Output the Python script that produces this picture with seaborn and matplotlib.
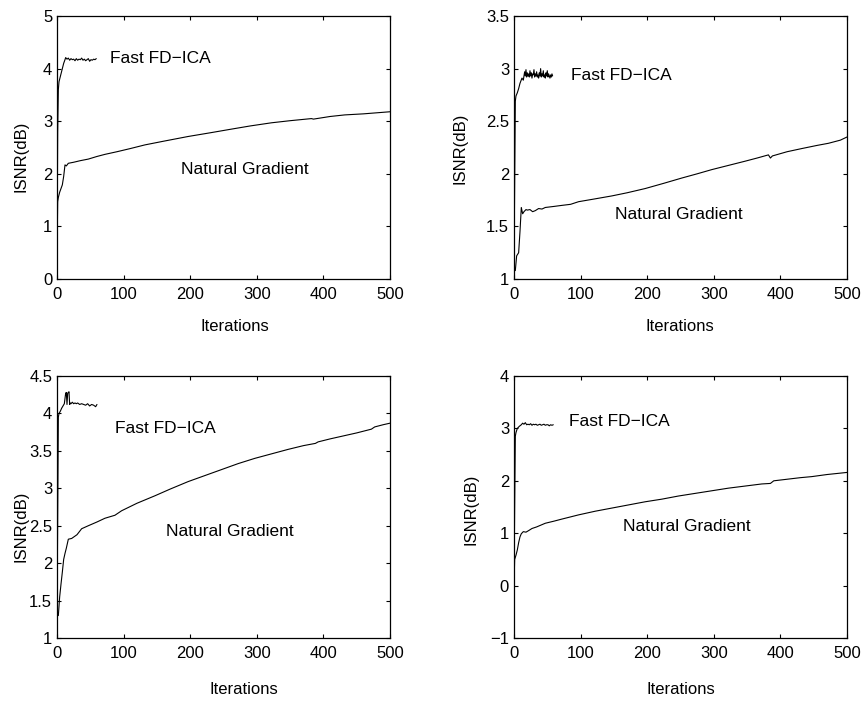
import numpy as np
import pandas as pd
import seaborn as sns
import matplotlib
matplotlib.use("Agg")
import matplotlib.pyplot as plt

# ---- data (ISNR in dB vs. iteration) ----
# panel a (top left)
ng_a_iter = [0, 1, 2, 4, 6, 8, 10, 12, 14, 17, 25, 35, 47, 60, 72, 90, 110, 132, 160, 197,
             230, 262, 290, 322, 350, 382, 385, 410, 432, 460, 480, 500]
ng_a = [0.45, 1.47, 1.55, 1.65, 1.72, 1.79, 1.95, 2.17, 2.15, 2.2, 2.22, 2.25, 2.28, 2.33, 2.37,
        2.42, 2.48, 2.55, 2.62, 2.71, 2.78, 2.85, 2.91, 2.97, 3.01, 3.05, 3.04, 3.09, 3.12, 3.14,
        3.16, 3.18]
fd_a_iter = [0, 1, 2, 3, 4, 6, 8, 10, 12, 13, 15, 17, 19, 21, 23, 25, 27, 29, 31, 33, 35, 37,
             39, 41, 43, 45, 47, 49, 51, 53, 55, 57, 59]
fd_a = [0.45, 2.8, 3.6, 3.75, 3.8, 3.9, 4.0, 4.1, 4.17, 4.21, 4.18, 4.2, 4.16, 4.19, 4.17, 4.18,
        4.15, 4.19, 4.16, 4.18, 4.17, 4.2, 4.16, 4.18, 4.15, 4.17, 4.19, 4.14, 4.17, 4.16, 4.18,
        4.17, 4.19]

# panel b (top right)
ng_b_iter = [0, 2, 4, 7, 9, 11, 13, 15, 18, 20, 24, 28, 32, 37, 42, 47, 60, 72, 85, 97, 120,
             147, 170, 197, 225, 252, 275, 297, 322, 347, 365, 382, 385, 388, 410, 432, 455, 472,
             490, 500]
ng_b = [1.1, 1.08, 1.22, 1.25, 1.45, 1.68, 1.62, 1.64, 1.66, 1.655, 1.66, 1.64, 1.65, 1.67,
        1.665, 1.68, 1.69, 1.70, 1.71, 1.735, 1.76, 1.79, 1.82, 1.86, 1.91, 1.96, 2.0, 2.04,
        2.08, 2.12, 2.15, 2.18, 2.15, 2.17, 2.21, 2.24, 2.27, 2.29, 2.32, 2.35]
fd_b_iter = [0, 1, 2, 3, 5, 7, 9, 12, 14] + list(range(16, 59))
fd_b = [1.1, 1.9, 2.69, 2.74, 2.77, 2.81, 2.86, 2.91, 2.89,
        2.97, 2.93, 2.99, 2.92, 2.96, 2.93, 2.95, 2.92, 2.98, 2.93,
        2.96, 2.91, 2.95, 2.94, 2.99, 2.92, 2.95, 2.93, 2.97, 2.92,
        2.94, 2.91, 2.96, 2.93, 3.0, 2.92, 2.95, 2.93, 2.98, 2.92,
        2.94, 2.91, 2.96, 2.93, 2.98, 2.92, 2.95, 2.93, 2.91, 2.94,
        2.92, 2.95, 2.93]

# panel c (bottom left)
ng_c_iter = [0, 2, 4, 6, 8, 10, 12, 14, 17, 22, 30, 37, 47, 60, 72, 87, 97, 120, 147, 170, 197,
             222, 247, 272, 297, 322, 347, 370, 388, 392, 410, 430, 450, 472, 477, 490, 500]
ng_c = [1.3, 1.3, 1.55, 1.72, 1.88, 2.05, 2.13, 2.2, 2.32, 2.33, 2.38, 2.46, 2.5, 2.55, 2.6,
        2.64, 2.7, 2.8, 2.9, 2.99, 3.09, 3.17, 3.25, 3.33, 3.4, 3.46, 3.52, 3.57, 3.6, 3.62,
        3.66, 3.7, 3.74, 3.79, 3.82, 3.85, 3.87]
fd_c_iter = [0, 1, 2, 3, 5, 7, 9, 11, 13, 14, 15, 16, 17, 18, 19, 20, 21, 23, 25, 27, 29, 31,
             34, 37, 40, 43, 46, 49, 52, 55, 58, 60]
fd_c = [1.3, 2.6, 3.95, 4.0, 4.03, 4.07, 4.1, 4.13, 4.27, 4.28, 4.12, 4.27, 4.28, 4.29, 4.12,
        4.14, 4.13, 4.15, 4.13, 4.14, 4.13, 4.14, 4.12, 4.13, 4.12, 4.11, 4.13, 4.1, 4.12, 4.11,
        4.09, 4.12]

# panel d (bottom right)
ng_d_iter = [0, 1, 3, 5, 7, 9, 11, 14, 18, 22, 27, 34, 47, 60, 72, 97, 122, 147, 172, 197, 222,
             247, 272, 297, 322, 347, 372, 385, 390, 410, 430, 447, 470, 500]
ng_d = [0.0, 0.5, 0.58, 0.68, 0.82, 0.93, 0.99, 1.03, 1.02, 1.05, 1.09, 1.12, 1.19, 1.23, 1.27,
        1.35, 1.42, 1.48, 1.54, 1.6, 1.65, 1.71, 1.76, 1.81, 1.86, 1.9, 1.94, 1.95, 2.0, 2.03,
        2.06, 2.08, 2.12, 2.16]
fd_d_iter = [0, 1, 2, 3, 5, 8, 11, 13, 15, 17] + list(range(19, 60, 2))
fd_d = [0.0, 1.5, 2.85, 2.92, 3.0, 3.04, 3.07, 3.1, 3.08, 3.11,
        3.07, 3.08, 3.07, 3.09, 3.06, 3.08, 3.07, 3.08, 3.06, 3.07,
        3.08, 3.06, 3.07, 3.08, 3.06, 3.07, 3.07, 3.05, 3.07, 3.06, 3.07]

# axis ticks per panel
x_ticks = [0, 100, 200, 300, 400, 500]
y_ticks_a = [0, 1, 2, 3, 4, 5]
y_labels_a = ["0", "1", "2", "3", "4", "5"]
y_ticks_b = [1, 1.5, 2, 2.5, 3, 3.5]
y_labels_b = ["1", "1.5", "2", "2.5", "3", "3.5"]
y_ticks_c = [1, 1.5, 2, 2.5, 3, 3.5, 4, 4.5]
y_labels_c = ["1", "1.5", "2", "2.5", "3", "3.5", "4", "4.5"]
y_ticks_d = [-1, 0, 1, 2, 3, 4]
y_labels_d = ["\u22121", "0", "1", "2", "3", "4"]

sns.set_theme(style="ticks", rc={
    "xtick.direction": "in", "ytick.direction": "in",
    "xtick.top": True, "ytick.right": True,
    "xtick.major.size": 3, "ytick.major.size": 3,
    "xtick.major.width": 0.8, "ytick.major.width": 0.8,
    "axes.linewidth": 0.9, "axes.edgecolor": "black",
    "xtick.color": "black", "ytick.color": "black",
    "text.color": "black", "axes.labelcolor": "black",
})
plt.rcParams["font.family"] = ["Liberation Sans", "DejaVu Sans"]

fig, axs = plt.subplots(2, 2, figsize=(8.65, 7.06), dpi=100)

panels = [
    # ax, ng data, fd data, yticks, ylabels, ylim, positions, label coords, text spots
    dict(ax=axs[0, 0], ng=(ng_a_iter, ng_a), fd=(fd_a_iter, fd_a), yt=y_ticks_a, yl=y_labels_a,
         pos=[0.0659, 0.6048, 0.385, 0.3725], ylab=(-0.087, 0.468), xlab=(0.535, -0.152),
         fd_txt=(80, 4.2), ng_txt=(186, 2.09)),
    dict(ax=axs[0, 1], ng=(ng_b_iter, ng_b), fd=(fd_b_iter, fd_b), yt=y_ticks_b, yl=y_labels_b,
         pos=[0.5942, 0.6048, 0.385, 0.3725], ylab=(-0.141, 0.498), xlab=(0.498, -0.152),
         fd_txt=(86, 2.93), ng_txt=(152, 1.61)),
    dict(ax=axs[1, 0], ng=(ng_c_iter, ng_c), fd=(fd_c_iter, fd_c), yt=y_ticks_c, yl=y_labels_c,
         pos=[0.0659, 0.0963, 0.385, 0.3711], ylab=(-0.087, 0.427), xlab=(0.56, -0.168),
         fd_txt=(87, 3.80), ng_txt=(164, 2.42)),
    dict(ax=axs[1, 1], ng=(ng_d_iter, ng_d), fd=(fd_d_iter, fd_d), yt=y_ticks_d, yl=y_labels_d,
         pos=[0.5942, 0.0963, 0.385, 0.3711], ylab=(-0.108, 0.492), xlab=(0.50, -0.168),
         fd_txt=(83, 3.14), ng_txt=(164, 1.12)),
]

for p in panels:
    ax = p["ax"]
    ax.set_position(p["pos"])
    sns.lineplot(x=p["ng"][0], y=p["ng"][1], ax=ax, color="black", linewidth=0.8,
                 estimator=None, sort=False)
    sns.lineplot(x=p["fd"][0], y=p["fd"][1], ax=ax, color="black", linewidth=0.8,
                 estimator=None, sort=False)
    ax.set_xlim(0, 500)
    ax.set_ylim(p["yt"][0], p["yt"][-1])
    ax.set_xticks(x_ticks)
    ax.set_xticklabels([str(t) for t in x_ticks])
    ax.set_yticks(p["yt"])
    ax.set_yticklabels(p["yl"])
    ax.tick_params(axis="both", labelsize=12)
    ax.tick_params(axis="x", pad=6)
    ax.tick_params(axis="y", pad=3.5)
    for s in ax.spines.values():
        s.set_visible(True)
        s.set_color("black")
    ax.set_xlabel("Iterations", fontsize=12)
    ax.set_ylabel("ISNR(dB)", fontsize=12)
    ax.xaxis.set_label_coords(*p["xlab"])
    ax.yaxis.set_label_coords(*p["ylab"])
    ax.text(p["fd_txt"][0], p["fd_txt"][1], "Fast FD\u2212ICA", fontsize=12.5,
            ha="left", va="center")
    ax.text(p["ng_txt"][0], p["ng_txt"][1], "Natural Gradient", fontsize=12.5,
            ha="left", va="center")
    ax.grid(False)

fig.savefig("out.png", dpi=100, facecolor="white")
